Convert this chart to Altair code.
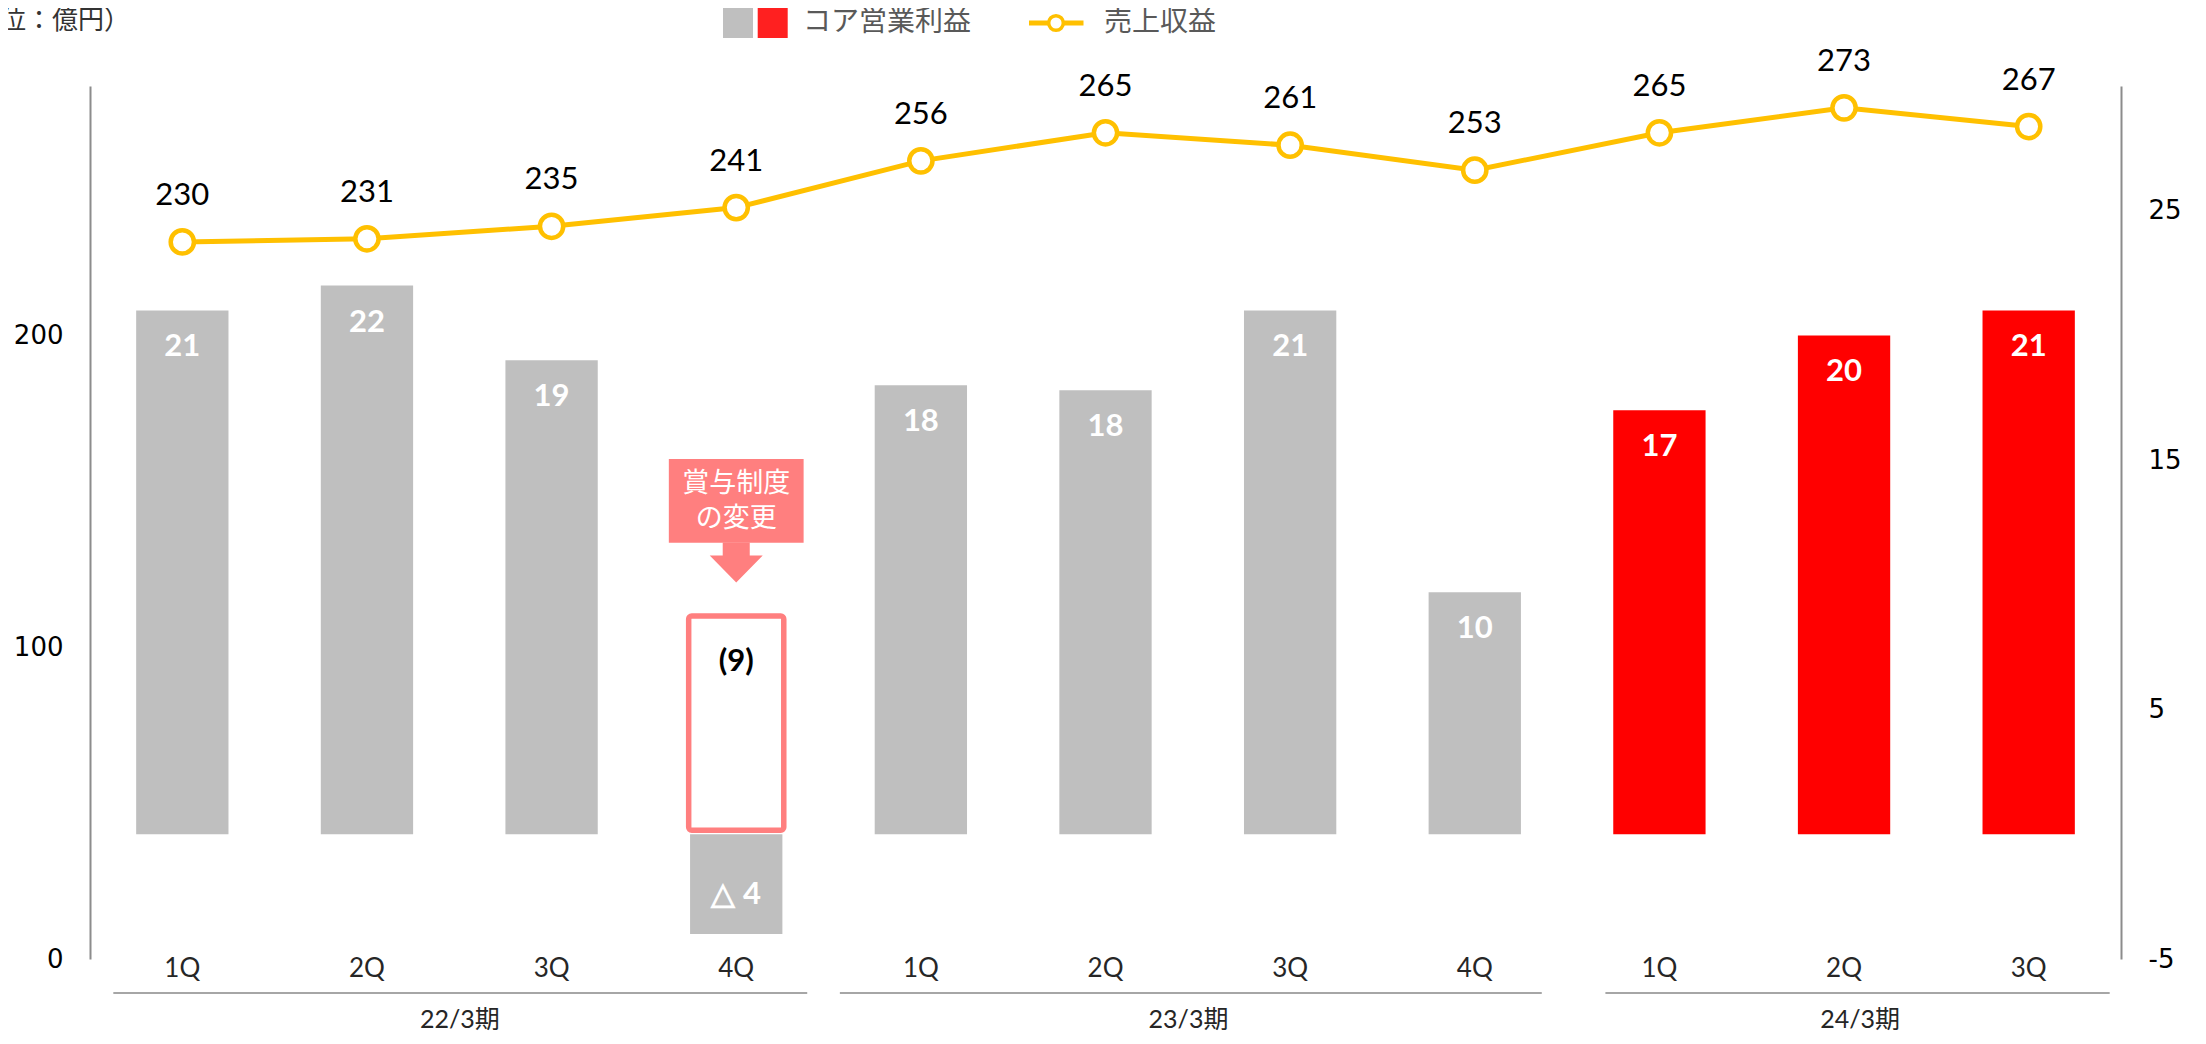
import altair as alt
import pandas as pd

# ---------------- data ----------------
fiscal_years = ["22/3期"] * 4 + ["23/3期"] * 4 + ["24/3期"] * 3
quarters = ["1Q", "2Q", "3Q", "4Q", "1Q", "2Q", "3Q", "4Q", "1Q", "2Q", "3Q"]
core_op_profit = [21.0, 22.0, 19.0, -4.0, 18.0, 17.8, 21.0, 9.7, 17.0, 20.0, 21.0]
profit_labels = ["21", "22", "19", "△ 4", "18", "18", "21", "10", "17", "20", "21"]
revenue = [230, 231, 235, 241, 256, 265, 261, 253, 265, 273, 267]
revenue_labels = ["230", "231", "235", "241", "256", "265", "261", "253", "265", "273", "267"]

fy_names = ["22/3期", "23/3期", "24/3期"]
fy_colors = ["#BFBFBF", "#BFBFBF", "#FF0000"]

# annotation (bonus system change)
bonus_key = "22/3期|4Q"
bonus_box_value = [8.75]
bonus_box_label = ["(9)"]
callout_text = ["賞与制度\nの変更"]
callout_top = [15.05]
callout_bottom = [11.69]
arrow_at = [10.9]

keys = [f"{fy}|{q}" for fy, q in zip(fiscal_years, quarters)]
df = pd.DataFrame(dict(key=keys, fy=fiscal_years, q=quarters, profit=core_op_profit,
                       plabel=profit_labels, revenue=revenue, rlabel=revenue_labels))

# ---------------- encodings ----------------
X_AXIS = alt.Axis(orient="bottom", title=None, labelExpr="split(datum.label, '|')[1]", labelAngle=0,
                  domain=False, ticks=False, tickSize=0, labelPadding=9, labelBaseline="middle",
                  labelFont="Lato", labelFontSize=26, labelColor="#262626", grid=False)
X_SCALE = alt.Scale(domain=keys, paddingInner=0.5, paddingOuter=0.25)


def xenc(field="key", band=None):
    kw = {}
    if band is not None:
        kw["bandPosition"] = band
    return alt.X(f"{field}:N", sort=keys, scale=X_SCALE, axis=X_AXIS, **kw)


R_AXIS = alt.Axis(orient="right", values=[-5, 5, 15, 25], title=None, grid=False, ticks=False, tickSize=0,
                  domainColor="#8C8C8C", domainWidth=2, labelFont="DejaVu Sans", labelFontSize=26,
                  labelColor="#000000", labelPadding=27,
                  labelExpr="datum.value < 0 ? '-' + abs(datum.value) : datum.label")
R_SCALE = alt.Scale(domain=[-5, 30], nice=False, zero=False)

L_AXIS = alt.Axis(orient="left", values=[0, 100, 200], title=None, grid=False, ticks=False, tickSize=0,
                  domainColor="#8C8C8C", domainWidth=2, labelFont="DejaVu Sans", labelFontSize=26,
                  labelColor="#000000", labelPadding=27)
L_SCALE = alt.Scale(domain=[0, 280], nice=False, zero=False)


def yr(field, **kw):
    return alt.Y(f"{field}:Q", scale=R_SCALE, axis=R_AXIS, **kw)


def yl(field):
    return alt.Y(f"{field}:Q", scale=L_SCALE, axis=L_AXIS)


base = alt.Chart(df)

# ---------------- bars (right axis) ----------------
bars = base.mark_bar().encode(
    x=xenc(), y=yr("profit", stack=None), y2=alt.datum(0),
    color=alt.Color("fy:N", scale=alt.Scale(domain=fy_names, range=fy_colors), legend=None),
)
pos_labels = base.transform_filter("datum.profit >= 0").mark_text(
    dy=37, color="white", font="Lato", fontWeight="bold", fontSize=31, baseline="middle"
).encode(x=xenc(), y=yr("profit"), text="plabel:N")
neg_labels = base.transform_filter("datum.profit < 0").mark_text(
    dy=-39, color="white", font="Lato", fontWeight="bold", fontSize=31, baseline="middle"
).encode(x=xenc(), y=yr("profit"), text="plabel:N")

ann = pd.DataFrame(dict(key=[bonus_key], value=bonus_box_value, label=bonus_box_label,
                        ctext=callout_text, top=callout_top, bottom=callout_bottom, arrow=arrow_at))
ann_base = alt.Chart(ann)
box = ann_base.mark_bar(fill="white", stroke="#FF7F7F", strokeWidth=5.5, cornerRadius=3,
                        y2Offset=-4, width=alt.RelativeBandSize(1.03)).encode(
    x=xenc(), y=yr("value", stack=None), y2=alt.datum(0))
box_label = ann_base.mark_text(dy=46, color="black", font="Lato", fontWeight="bold", fontSize=31,
                               baseline="middle").encode(x=xenc(), y=yr("value"), text="label:N")
callout_rect = ann_base.mark_bar(color="#FF7F7F", width=alt.RelativeBandSize(1.46)).encode(
    x=xenc(), y=yr("top"), y2="bottom:Q")
callout_lbl = ann_base.transform_calculate(center="(datum.top + datum.bottom) / 2").mark_text(
    color="white", font="Noto Sans CJK JP", fontSize=27, lineBreak="\n", lineHeight=35, baseline="middle",
    dy=-17
).encode(x=xenc(), y=yr("center"), text="ctext:N")
arrow = ann_base.mark_point(
    shape="M-0.51,-0.755 L0.51,-0.755 L0.51,-0.26 L1,-0.26 L0,0.755 L-1,-0.26 L-0.51,-0.26 Z",
    filled=True, color="#FF7F7F", size=2809, opacity=1, strokeWidth=0
).encode(x=xenc(), y=yr("arrow"))

bar_layer = alt.layer(bars, box, pos_labels, neg_labels, box_label, callout_rect, callout_lbl, arrow)

# ---------------- line (left axis) ----------------
line = base.mark_line(color="#FFC000", strokeWidth=5).encode(x=xenc(), y=yl("revenue"))
pts = base.mark_point(shape="circle", filled=True, fill="white", stroke="#FFC000", strokeWidth=4.5,
                      size=540, opacity=1).encode(x=xenc(), y=yl("revenue"))
line_labels = base.mark_text(dy=-46, color="black", font="Lato", fontSize=31, baseline="middle").encode(
    x=xenc(), y=yl("revenue"), text="rlabel:N")
line_layer = alt.layer(line, pts, line_labels)

# ---------------- fiscal-year groups under the axis ----------------
# (start key, end key, start px offset, end px offset, label key, label px offset, label)
groups = [
    ("22/3期|1Q", "22/3期|4Q", -69, 71, "22/3期|2Q", 93, "22/3期"),
    ("23/3期|1Q", "23/3期|4Q", -81, 67, "23/3期|2Q", 83, "23/3期"),
    ("24/3期|1Q", "24/3期|3Q", -54, 81, "24/3期|2Q", 16, "24/3期"),
]
group_layers = []
for s, e, os_, oe, lk, ol, name in groups:
    gd = pd.DataFrame(dict(key=[s], key_end=[e], lab_key=[lk], name=[name]))
    group_layers.append(alt.Chart(gd).mark_rule(color="#A6A6A6", strokeWidth=2, xOffset=os_, x2Offset=oe).encode(
        x=xenc("key", 0.5), x2=alt.X2("key_end:N", bandPosition=0.5), y=alt.value(907)))
    group_layers.append(alt.Chart(gd).mark_text(font="Lato, Noto Sans CJK JP", fontSize=25, color="#262626",
                                                baseline="middle", dx=ol).encode(
        x=xenc("lab_key", 0.5), y=alt.value(934), text="name:N"))

# ---------------- legend & unit ----------------
one = pd.DataFrame({"k": [0]})
leg = [
    alt.Chart(one).mark_square(size=900, color="#BFBFBF", opacity=1).encode(x=alt.value(648), y=alt.value(-63)),
    alt.Chart(one).mark_square(size=900, color="#FF2020", opacity=1).encode(x=alt.value(682.7), y=alt.value(-63)),
    alt.Chart(one).mark_text(text="コア営業利益", align="left", baseline="middle", font="Noto Sans CJK JP",
                             fontSize=28, color="#595959").encode(x=alt.value(713), y=alt.value(-63)),
    alt.Chart(one).mark_rule(color="#FFC000", strokeWidth=5).encode(
        x=alt.value(939), x2=alt.value(993.5), y=alt.value(-63)),
    alt.Chart(one).mark_point(shape="circle", filled=True, fill="white", stroke="#FFC000", strokeWidth=3.5,
                              size=214, opacity=1).encode(x=alt.value(966), y=alt.value(-63)),
    alt.Chart(one).mark_text(text="売上収益", align="left", baseline="middle", font="Noto Sans CJK JP",
                             fontSize=28, color="#595959").encode(x=alt.value(1014), y=alt.value(-63)),
    alt.Chart(one).mark_text(text="（単位：億円）", align="right", baseline="middle", font="Noto Sans CJK JP",
                             fontSize=26, color="#333333").encode(x=alt.value(40), y=alt.value(-65)),
]

chart = alt.layer(bar_layer, line_layer, *group_layers, *leg).resolve_scale(y="independent").properties(
    width=2031, height=873,
    autosize=alt.AutoSizeParams(type="none"),
    padding={"left": 82, "top": 78, "right": 77, "bottom": 77},
).configure_view(stroke=None)

chart.save("out.html", embed_options={"renderer": "svg", "actions": False})
